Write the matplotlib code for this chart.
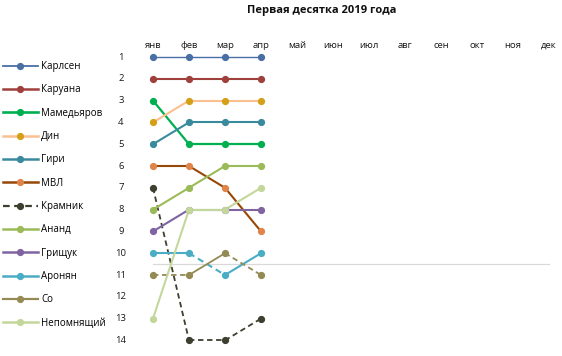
import matplotlib
matplotlib.use('Agg')
import matplotlib.pyplot as plt
from matplotlib.lines import Line2D
import matplotlib.transforms as mtransforms

plt.rcParams['font.family'] = ['Open Sans', 'Noto Sans', 'DejaVu Sans']

# Данные: места игроков по месяцам
months = ['янв', 'фев', 'мар', 'апр', 'май', 'июн', 'июл', 'авг', 'сен', 'окт', 'ноя', 'дек']
ranks_axis = list(range(1, 15))
players = ['Карлсен', 'Каруана', 'Мамедьяров', 'Дин', 'Гири', 'МВЛ', 'Крамник',
           'Ананд', 'Грищук', 'Аронян', 'Со', 'Непомнящий']

carlsen = [1, 1, 1, 1]
caruana = [2, 2, 2, 2]
mamedyarov = [3, 5, 5, 5]
ding = [4, 3, 3, 3]
giri = [5, 4, 4, 4]
mvl = [6, 6, 7, 9]
kramnik = [7, 14, 14, 13]
anand = [8, 7, 6, 6]
grischuk = [9, 8, 8, 8]
aronian = [10, 10, 11, 10]
so = [11, 11, 10, 11]
nepo = [13, 8, 8, 7]
top10_cut = 10.5

series = [carlsen, caruana, mamedyarov, ding, giri, mvl, kramnik,
          anand, grischuk, aronian, so, nepo]

# Оформление: цвет линии, цвет маркера, толщина
line_colors = ['#4a6fa5', '#a0403c', '#00b050', '#fac090', '#3a8a9e', '#974806',
               '#3f3f30', '#9bbb59', '#8064a2', '#4bacc6', '#948a54', '#c4d79b']
marker_colors = ['#4a6fa5', '#a0403c', '#00b050', '#d4a017', '#3a8a9e', '#e0844a',
                 '#3f3f30', '#9bbb59', '#8064a2', '#4bacc6', '#948a54', '#c4d79b']
widths = [1.0, 1.5, 1.6, 1.5, 1.5, 1.5, 1.3, 1.5, 1.5, 1.5, 1.3, 1.5]
# номера пунктирных отрезков
dashed = {'Крамник': [0, 1, 2], 'Аронян': [1], 'Со': [0, 2]}

W, H = 562, 356
fig = plt.figure(figsize=(W / 100, H / 100), dpi=100)

x0_px, dx_px = 153, 36
y0_px, dy_px = 57, 21.8
xlim = (-0.5, 11.3)
ylim = (14.5, 0.5)
left_px = x0_px + dx_px * xlim[0]
right_px = x0_px + dx_px * xlim[1]
top_px = y0_px + dy_px * (ylim[1] - 1)
bot_px = y0_px + dy_px * (ylim[0] - 1)
ax = fig.add_axes([left_px / W, 1 - bot_px / H, (right_px - left_px) / W, (bot_px - top_px) / H])
ax.set_xlim(*xlim)
ax.set_ylim(*ylim)
ax.axis('off')

# граница первой десятки
ax.plot([0, len(months) - 1], [top10_cut, top10_cut], color='#d9d9d9', lw=0.9, zorder=1)

xs = list(range(len(carlsen)))
handles = []
for i, name in enumerate(players):
    vals = series[i]
    for s in range(len(vals) - 1):
        ls = (0, (3, 2)) if s in dashed.get(name, []) else '-'
        ax.plot(xs[s:s + 2], vals[s:s + 2], color=line_colors[i], lw=widths[i],
                ls=ls, solid_capstyle='butt', zorder=2 + i * 0.1)
    ax.plot(xs, vals, ls='none', marker='o', ms=4.2, color=marker_colors[i],
            zorder=3 + i * 0.1)
    leg_ls = (0, (3, 2)) if name == 'Крамник' else '-'
    handles.append(Line2D([], [], color=line_colors[i], lw=widths[i] + 0.3, ls=leg_ls,
                          marker='o', ms=4.2, markerfacecolor=marker_colors[i],
                          markeredgecolor=marker_colors[i]))

# подписи месяцев сверху
tr_x = mtransforms.blended_transform_factory(ax.transData, fig.transFigure)
for i, m in enumerate(months):
    fig.text(i, 1 - 47.5 / H, m, transform=tr_x, ha='center', va='baseline',
             fontsize=6.8, color='#1a1a1a')

# подписи мест слева
tr_y = mtransforms.blended_transform_factory(fig.transFigure, ax.transData)
for r in ranks_axis:
    fig.text(121 / W, r, str(r), transform=tr_y, ha='center', va='center',
             fontsize=6.8, color='#1a1a1a')

fig.text(322 / W, 1 - 11 / H, 'Первая десятка 2019 года', ha='center', va='center',
         fontsize=8, fontweight='bold', color='#111111')

fig.legend(handles, players, loc='upper left', bbox_to_anchor=(2 / W, 1 - 60 / H),
           frameon=False, fontsize=7, handlelength=3.6, handletextpad=0.3,
           labelspacing=1.27, borderaxespad=0, borderpad=0.1)

fig.savefig('out.png', dpi=100)
